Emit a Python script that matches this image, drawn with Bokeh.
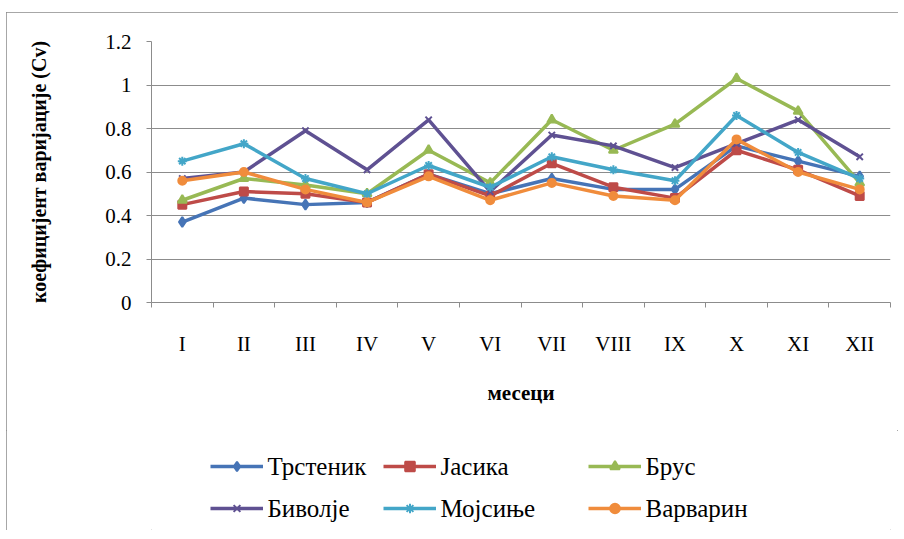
from bokeh.plotting import figure
from bokeh.layouts import column
from bokeh.models import (FixedTicker, CustomJSTickFormatter, Legend, LegendItem, Range1d,
                          Label)
from bokeh.embed import file_html
from bokeh.resources import INLINE

months = ["I", "II", "III", "IV", "V", "VI", "VII", "VIII", "IX", "X", "XI", "XII"]

trstenik = [0.37, 0.48, 0.45, 0.46, 0.59, 0.50, 0.57, 0.52, 0.52, 0.72, 0.65, 0.58]
jasika = [0.45, 0.51, 0.50, 0.46, 0.59, 0.49, 0.64, 0.53, 0.48, 0.70, 0.61, 0.49]
brus = [0.47, 0.57, 0.54, 0.50, 0.70, 0.55, 0.84, 0.70, 0.82, 1.03, 0.88, 0.55]
bivolje = [0.57, 0.60, 0.79, 0.61, 0.84, 0.51, 0.77, 0.72, 0.62, 0.73, 0.84, 0.67]
mojsinje = [0.65, 0.73, 0.57, 0.50, 0.63, 0.53, 0.67, 0.61, 0.56, 0.86, 0.69, 0.57]
varvarin = [0.56, 0.60, 0.52, 0.46, 0.58, 0.47, 0.55, 0.49, 0.47, 0.75, 0.60, 0.52]

series_names = ["Трстеник", "Јасика", "Брус", "Биволје", "Мојсиње", "Варварин"]
y_ticks = [0, 0.2, 0.4, 0.6, 0.8, 1.0, 1.2]

series_values = [trstenik, jasika, brus, bivolje, mojsinje, varvarin]
colors = ["#4674B6", "#BE4B48", "#98B954", "#5F5192", "#43A6C8", "#F08C3C"]
markers = ["diamond", "square", "triangle", "x", "asterisk", "circle"]
msizes = [10, 8, 9, 9, 9, 8]

FONT = "Liberation Serif"

x = list(range(1, len(months) + 1))

p = figure(width=892, height=418, output_backend="svg", toolbar_location=None,
           x_range=Range1d(0.5, len(months) + 0.5), y_range=Range1d(0, 1.2),
           min_border_left=145, min_border_right=8, min_border_top=29,
           min_border_bottom=128)
p.outline_line_color = None
p.background_fill_color = "white"
p.border_fill_color = "white"

p.xgrid.visible = False
p.ygrid.ticker = FixedTicker(ticks=y_ticks)
p.ygrid.grid_line_color = "#8c8c8c"
p.ygrid.grid_line_width = 1

# y axis
p.yaxis.ticker = FixedTicker(ticks=y_ticks)
p.yaxis.formatter = CustomJSTickFormatter(code="return String(Number(tick.toFixed(1)));")
p.yaxis.major_tick_out = 5
p.yaxis.major_tick_in = 0
p.yaxis.minor_tick_out = 0
p.yaxis.minor_tick_in = 0
p.yaxis.axis_line_color = "#8c8c8c"
p.yaxis.major_tick_line_color = "#8c8c8c"
p.yaxis.major_label_text_font = FONT
p.yaxis.major_label_text_font_size = "21px"
p.yaxis.major_label_text_color = "black"
p.yaxis.major_label_standoff = 15
p.yaxis.axis_label = "коефицијент варијације (Cv)"
p.yaxis.axis_label_text_font = FONT
p.yaxis.axis_label_text_font_style = "bold"
p.yaxis.axis_label_text_font_size = "20px"
p.yaxis.axis_label_text_color = "black"
p.yaxis.axis_label_standoff = 52

# x axis
p.xaxis.ticker = FixedTicker(ticks=x, minor_ticks=[i + 0.5 for i in range(0, len(months) + 1)])
p.xaxis.major_label_overrides = {i: m for i, m in zip(x, months)}
p.xaxis.major_tick_out = 0
p.xaxis.major_tick_in = 0
p.xaxis.minor_tick_out = 5
p.xaxis.minor_tick_in = 0
p.xaxis.axis_line_color = "#8c8c8c"
p.xaxis.minor_tick_line_color = "#8c8c8c"
p.xaxis.major_label_text_font = FONT
p.xaxis.major_label_text_font_size = "21px"
p.xaxis.major_label_text_color = "black"
p.xaxis.major_label_standoff = 24
p.xaxis.axis_label = "месеци"
p.xaxis.axis_label_text_font = FONT
p.xaxis.axis_label_text_font_style = "bold"
p.xaxis.axis_label_text_font_size = "21px"
p.xaxis.axis_label_text_color = "black"
p.xaxis.axis_label_standoff = 22

for vals, c, m, s in zip(series_values, colors, markers, msizes):
    p.line(x, vals, line_color=c, line_width=3.5)
    p.scatter(x, vals, marker=m, size=s, fill_color=c, line_color=c, line_width=2)

# legend strip: the same series drawn out of view, so only the legend keys show.
# Its ranges map one data unit to one page pixel, for placing the legend texts.
p2 = figure(width=892, height=100, output_backend="svg", toolbar_location=None,
            x_range=Range1d(151, 890), y_range=Range1d(530, 430),
            min_border_left=0, min_border_right=0, min_border_top=0, min_border_bottom=0)
p2.axis.visible = False
p2.grid.visible = False
p2.outline_line_color = None
p2.border_fill_color = "white"

# legend layout (page pixels): key start x per column, row centre y
col_x = [210, 383, 588]
row_y = [466, 508]
KEY_W = 53

for i, (name, vals, c, m, s) in enumerate(zip(series_names, series_values, colors,
                                                 markers, msizes)):
    r1 = p2.line(x, vals, line_color=c, line_width=3.5)
    r2 = p2.scatter(x, vals, marker=m, size=s, fill_color=c, line_color=c, line_width=2)
    kx = col_x[i % 3]
    ky = row_y[i // 3]
    lg = Legend(items=[LegendItem(label=" ", renderers=[r1, r2])],
                location=(kx - 151, 530 - ky - 12),
                glyph_width=KEY_W, glyph_height=24, label_height=24, label_width=1,
                label_standoff=0, padding=0, margin=0, border_line_color=None,
                background_fill_alpha=0, label_text_font_size="6px")
    p2.add_layout(lg)
    p2.add_layout(Label(x=kx + KEY_W + 4, y=ky, text=name, text_baseline="middle",
                        text_align="left", text_font=FONT, text_font_size="25px",
                        text_color="black"))

layout = column(p, p2, spacing=0, margin=(12, 0, 0, 6),
                styles={"outline": "1px solid #8a8a8a", "outline-offset": "-1px"})

open("out.html", "w").write(file_html(layout, INLINE))
